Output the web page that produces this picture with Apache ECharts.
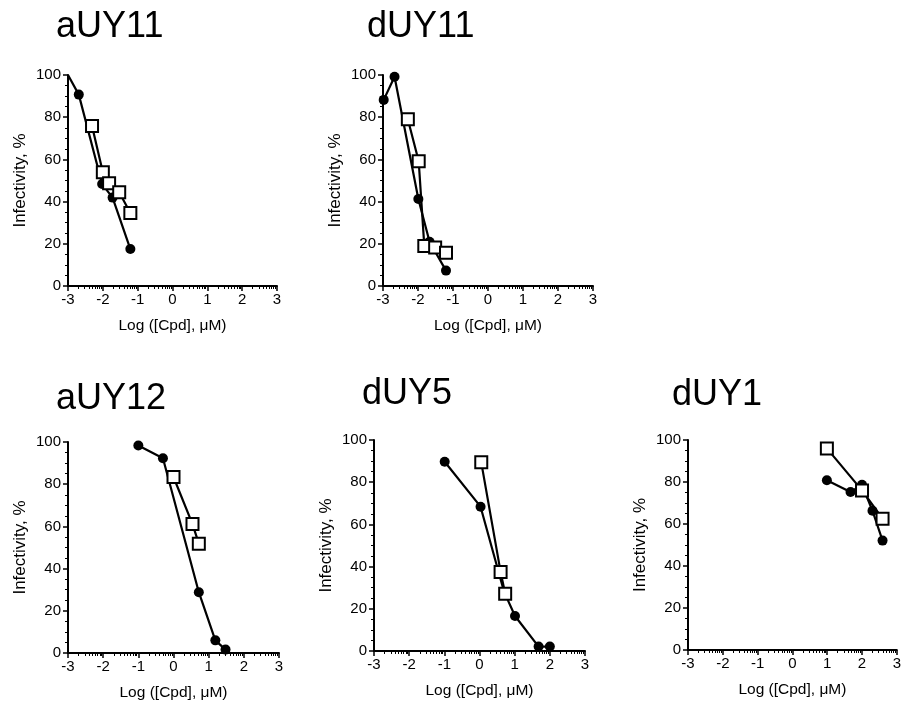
<!DOCTYPE html>
<html>
<head>
<meta charset="utf-8">
<script src="https://cdn.jsdelivr.net/npm/echarts@6/dist/echarts.min.js"></script>
<style>
  html, body { margin: 0; padding: 0; background: #fff; }
  #main { width: 904px; height: 705px; }
</style>
</head>
<body>
<div id="main"></div>
<script>
// panel titles
var panelTitles = ['aUY11', 'dUY11', 'aUY12', 'dUY5', 'dUY1'];

// tick labels
var xTickValues = [-3, -2, -1, 0, 1, 2, 3];
var yTickValues = [0, 20, 40, 60, 80, 100];

// [log concentration, infectivity %]  filled circles
var aUY11Circle = [[-3, 100], [-2.69, 90.7], [-2.02, 48.3], [-1.72, 41.9], [-1.21, 17.5]];
var dUY11Circle = [[-2.98, 88.2], [-2.67, 99.2], [-1.99, 41.2], [-1.67, 21], [-1.2, 7.3]];
var aUY12Circle = [[-1.0, 98.3], [-0.3, 92.3], [0.72, 28.8], [1.19, 6.0], [1.48, 1.6]];
var dUY5Circle = [[-0.99, 89.7], [0.03, 68.4], [0.7, 28], [1.01, 16.6], [1.68, 2.1], [2.0, 2.1]];
var dUY1Circle = [[0.99, 80.8], [1.67, 75.2], [2.0, 78.7], [2.3, 66.3], [2.59, 52.1]];

// open squares
var aUY11Square = [[-2.31, 75.8], [-2.0, 53.9], [-1.82, 48.7], [-1.53, 44.4], [-1.21, 34.6]];
var dUY11Square = [[-2.29, 79], [-1.98, 59.1], [-1.82, 19], [-1.51, 18.3], [-1.2, 15.8]];
var aUY12Square = [[0.0, 83.4], [0.54, 61.1], [0.72, 51.8]];
var dUY5Square = [[0.05, 89.4], [0.6, 37.5], [0.73, 27.1]];
var dUY1Square = [[0.99, 96], [2.0, 76], [2.59, 62.5]];

var circleSets = [aUY11Circle, dUY11Circle, aUY12Circle, dUY5Circle, dUY1Circle];
var squareSets = [aUY11Square, dUY11Square, aUY12Square, dUY5Square, dUY1Square];

var grids = [
    { left: 68, top: 75, width: 209, height: 211 },
    { left: 383, top: 75, width: 210, height: 211 },
    { left: 68, top: 442, width: 211, height: 211 },
    { left: 374, top: 440, width: 211, height: 211 },
    { left: 688, top: 440, width: 211, height: 210 }
];
var titlePos = [
    { left: 56, top: 9 },
    { left: 367, top: 9 },
    { left: 56, top: 381 },
    { left: 362, top: 376 },
    { left: 672, top: 377 }
];

var FONT = '"Liberation Sans", Arial, sans-serif';

// log-spaced minor ticks inside each decade
var minorX = [];
for (var k = -3; k < 3; k++) {
    for (var m = 2; m <= 9; m++) {
        minorX.push(k + Math.log10(m));
    }
}

var chart = echarts.init(document.getElementById('main'));
var xAxes = [], yAxes = [], series = [], titles = [];

for (var i = 0; i < grids.length; i++) {
    titles.push({
        text: panelTitles[i],
        left: titlePos[i].left,
        top: titlePos[i].top,
        padding: 0,
        textStyle: { fontSize: 36, fontWeight: 'normal', color: '#000', fontFamily: FONT }
    });
    // main x axis
    xAxes.push({
        type: 'value', gridIndex: i, min: -3, max: 3, interval: 1,
        axisLine: { onZero: false, lineStyle: { color: '#000', width: 2 } },
        axisTick: { length: 5, lineStyle: { color: '#000', width: 1.5 } },
        axisLabel: {
            fontSize: 15, color: '#000', margin: 6, fontFamily: FONT,
            customValues: xTickValues
        },
        splitLine: { show: false },
        name: 'Log ([Cpd], \u03bcM)', nameLocation: 'middle', nameGap: 32,
        nameTextStyle: { fontSize: 15.5, color: '#000', fontFamily: FONT }
    });
    // minor log ticks
    xAxes.push({
        type: 'value', gridIndex: i, min: -3, max: 3, position: 'bottom',
        axisLine: { show: false, onZero: false },
        axisTick: { length: 3, customValues: minorX, lineStyle: { color: '#000', width: 1 } },
        axisLabel: { show: false },
        splitLine: { show: false }
    });
    yAxes.push({
        type: 'value', gridIndex: i, min: 0, max: 100, interval: 20,
        axisLine: { show: true, onZero: false, lineStyle: { color: '#000', width: 2 } },
        axisTick: { show: true, length: 5, lineStyle: { color: '#000', width: 1.5 } },
        minorTick: { show: true, splitNumber: 4, length: 3, lineStyle: { color: '#000', width: 1 } },
        axisLabel: { fontSize: 15, color: '#000', margin: 7, fontFamily: FONT, customValues: yTickValues },
        splitLine: { show: false },
        name: 'Infectivity, %', nameLocation: 'middle', nameGap: 39,
        nameTextStyle: { fontSize: 17, color: '#000', fontFamily: FONT }
    });
    series.push({
        type: 'line', xAxisIndex: 2 * i, yAxisIndex: i,
        data: circleSets[i],
        symbol: function(v) { return (v[0] <= -3 && v[1] >= 100) ? 'none' : 'circle'; },
        symbolSize: 10,
        itemStyle: { color: '#000' },
        lineStyle: { color: '#000', width: 2.2 },
        z: 2, animation: false
    });
    series.push({
        type: 'line', xAxisIndex: 2 * i, yAxisIndex: i,
        data: squareSets[i],
        symbol: 'rect', symbolSize: 12,
        itemStyle: { color: '#fff', borderColor: '#000', borderWidth: 2 },
        lineStyle: { color: '#000', width: 2.2 },
        z: 3, animation: false
    });
}

chart.setOption({
    backgroundColor: '#fff',
    animation: false,
    title: titles,
    grid: grids,
    xAxis: xAxes,
    yAxis: yAxes,
    series: series
});
</script>
</body>
</html>
